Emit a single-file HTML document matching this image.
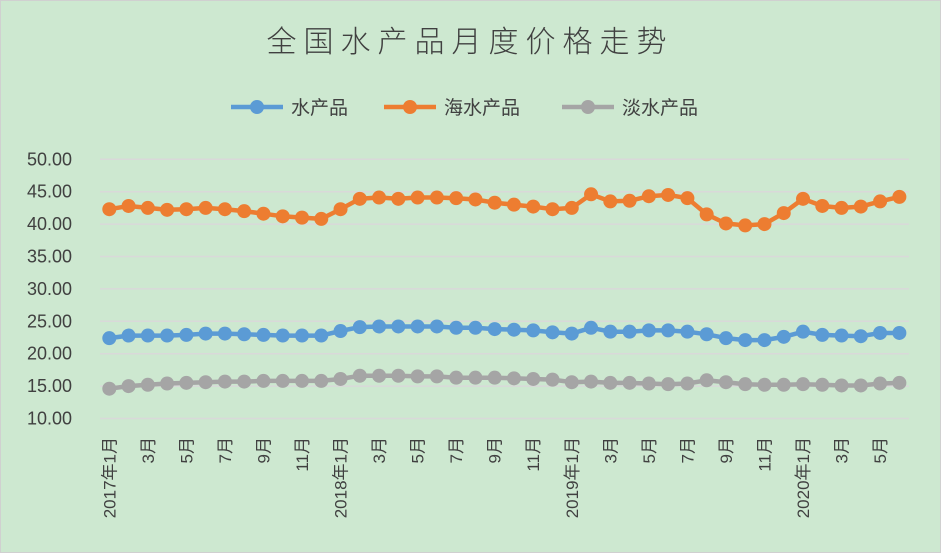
<!DOCTYPE html>
<html><head><meta charset="utf-8"><style>
html,body{margin:0;padding:0;background:#cde8d0;}
svg{display:block;font-family:"Liberation Sans","Noto Sans CJK SC",sans-serif;}
</style></head><body>
<svg id="c" width="941" height="553" xmlns="http://www.w3.org/2000/svg">
<rect x="0.5" y="0.5" width="940" height="552" fill="#cde8d0" stroke="#d0d0d0"/>
<text x="470" y="52" text-anchor="middle" font-size="30" letter-spacing="7" fill="#404040" font-family="'Noto Sans CJK SC',sans-serif" font-weight="300">全国水产品月度价格走势</text>
<g font-size="19" fill="#404040" font-family="'Noto Sans CJK SC',sans-serif">
<line x1="231" y1="107" x2="283" y2="107" stroke="#5b9bd5" stroke-width="4.5"/><circle cx="257" cy="107" r="7" fill="#5b9bd5"/><text x="291" y="114">水产品</text>
<line x1="384" y1="107" x2="436" y2="107" stroke="#ed7d31" stroke-width="4.5"/><circle cx="410" cy="107" r="7" fill="#ed7d31"/><text x="444" y="114">海水产品</text>
<line x1="562" y1="107" x2="614" y2="107" stroke="#a5a5a5" stroke-width="4.5"/><circle cx="588" cy="107" r="7" fill="#a5a5a5"/><text x="622" y="114">淡水产品</text>
</g>
<g id="g"></g>
</svg>
<script>
var NS="http://www.w3.org/2000/svg",g=document.getElementById("g");
function el(t,a,txt){var e=document.createElementNS(NS,t);for(var k in a)e.setAttribute(k,a[k]);if(txt!=null)e.textContent=txt;g.appendChild(e);return e;}
function Y(v){return 418.5-(v-10)*6.48;}
function X(i){return 109.3+i*19.27;}
for(var v=10;v<=50;v+=5){var y=Y(v);el("line",{x1:100,x2:909,y1:y,y2:y,stroke:"#d9d9d9","stroke-width":1.5});
el("text",{x:72,y:y+6,"text-anchor":"end","font-size":18,fill:"#404040"},v.toFixed(2));}
var o=[42.3,42.8,42.5,42.2,42.3,42.5,42.3,42.0,41.6,41.2,41.0,40.8,42.3,43.9,44.1,43.9,44.1,44.1,44.0,43.8,43.3,43.0,42.7,42.3,42.5,44.6,43.5,43.6,44.3,44.5,44.0,41.5,40.1,39.8,40.0,41.7,43.9,42.8,42.5,42.7,43.5,44.2];
var b=[22.4,22.8,22.8,22.8,22.9,23.1,23.1,23.0,22.9,22.8,22.8,22.8,23.5,24.1,24.2,24.2,24.2,24.2,24.0,24.0,23.8,23.7,23.6,23.3,23.1,24.0,23.4,23.4,23.6,23.6,23.4,23.0,22.4,22.1,22.1,22.6,23.4,22.9,22.8,22.7,23.2,23.2];
var gr=[14.6,15.0,15.2,15.4,15.5,15.6,15.7,15.7,15.8,15.8,15.8,15.8,16.1,16.6,16.6,16.6,16.5,16.5,16.3,16.3,16.3,16.2,16.1,16.0,15.6,15.7,15.5,15.5,15.4,15.3,15.4,15.9,15.6,15.3,15.2,15.2,15.3,15.2,15.1,15.1,15.4,15.5];
[[b,"#5b9bd5"],[o,"#ed7d31"],[gr,"#a5a5a5"]].forEach(function(s){
var p=s[0].map(function(v,i){return X(i).toFixed(1)+","+Y(v).toFixed(1);}).join(" ");
el("polyline",{points:p,fill:"none",stroke:s[1],"stroke-width":4.5,"stroke-linejoin":"round"});
s[0].forEach(function(v,i){el("circle",{cx:X(i),cy:Y(v),r:7,fill:s[1]});});});
for(var i=0;i<42;i+=2){var yr=2017+Math.floor(i/12),m=i%12+1;var t=(m==1?yr+"年":"")+m+"月";
var x=X(i)+6;el("text",{x:0,y:0,transform:"translate("+x+",437) rotate(-90)","text-anchor":"end","font-size":17,fill:"#404040"},t);}
</script>
</body></html>
